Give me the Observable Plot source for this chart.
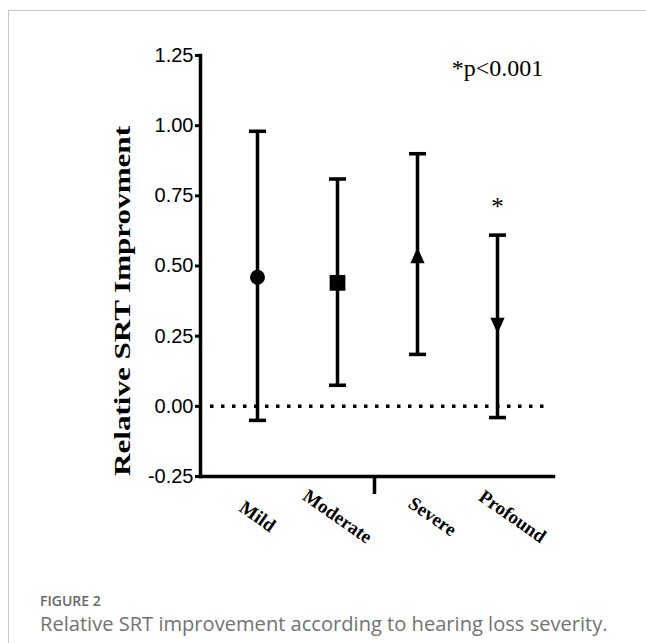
<!DOCTYPE html>
<html><head><meta charset="utf-8">
<script src="https://cdn.jsdelivr.net/npm/d3@7"></script>
<script src="https://cdn.jsdelivr.net/npm/@observablehq/plot@0.6"></script>
<style>
body{margin:0;background:#fff;}
#fig{position:relative;width:646px;height:643px;overflow:hidden;background:#fff;}
#chart{position:absolute;left:0;top:0;}
.bt{position:absolute;left:8px;top:10px;right:0;height:0;border-top:1.5px solid #c6c6c6;}
.bl{position:absolute;left:8px;top:10px;bottom:0;width:0;border-left:1.5px solid #c6c6c6;}
.fl{position:absolute;left:40px;top:593px;font-family:"Open Sans",sans-serif;font-size:14px;line-height:16px;font-weight:600;color:#666;white-space:nowrap;}
.ct{position:absolute;left:40px;top:613px;font-family:"Open Sans",sans-serif;font-size:20.1px;line-height:22px;color:#727272;white-space:nowrap;}
</style></head><body>
<div id="fig"><div id="chart"></div><div class="bt"></div><div class="bl"></div>
<div class="fl" id="figlabel"></div><div class="ct" id="figcap"></div></div>
<script>
// ---- data ----
const categories = ["Mild", "Moderate", "Severe", "Profound"];
const means = [0.46, 0.44, 0.535, 0.29];
const lower = [-0.05, 0.075, 0.185, -0.04];
const upper = [0.98, 0.81, 0.90, 0.61];
const yTicks = [-0.25, 0, 0.25, 0.5, 0.75, 1.0, 1.25];
const yLabel = "Relative SRT Improvment";
const sigMarkCategory = ["Profound"];
const sigMarkY = [0.71];
const pNote = ["*p<0.001"];
const pNoteCategory = ["Profound"];
const pNoteY = [1.205];
const figLabel = "FIGURE 2";
const figCaption = "Relative SRT improvement according to hearing loss severity.";

const rows = categories.map((c, i) => ({category: c, mean: means[i], lo: lower[i], hi: upper[i]}));

// custom marker shapes
const circ = {draw(ctx, size){const r = Math.sqrt(size/Math.PI); ctx.moveTo(r,0); ctx.arc(0,0,r,0,2*Math.PI);}};
const sq = {draw(ctx, size){const r = Math.sqrt(size/Math.PI)*1.05; ctx.rect(-r,-r,2*r,2*r);}};
const triUp = {draw(ctx, size){const r = Math.sqrt(size/Math.PI); const w=r*0.95, h=r*2.1; ctx.moveTo(0,-h*0.55); ctx.lineTo(w,h*0.45); ctx.lineTo(-w,h*0.45); ctx.closePath();}};
const triDown = {draw(ctx, size){const r = Math.sqrt(size/Math.PI); const w=r*0.95, h=r*2.1; ctx.moveTo(0,h*0.55); ctx.lineTo(w,-h*0.45); ctx.lineTo(-w,-h*0.45); ctx.closePath();}};
const capBar = {draw(ctx, size){const r = Math.sqrt(size/Math.PI); ctx.rect(-r, -r*0.21, 2*r, r*0.42);}};

function midTick(index, scales, values, dim) {
  const x = dim.marginLeft + (dim.width - dim.marginLeft - dim.marginRight) / 2 - 2;
  const y0 = dim.height - dim.marginBottom;
  const l = document.createElementNS("http://www.w3.org/2000/svg", "line");
  l.setAttribute("x1", x); l.setAttribute("x2", x);
  l.setAttribute("y1", y0); l.setAttribute("y2", y0 + 18);
  l.setAttribute("stroke", "#000"); l.setAttribute("stroke-width", 3.5);
  return l;
}

const serif = "'Liberation Serif', 'Times New Roman', serif";

const chart = Plot.plot({
  width: 646, height: 560,
  marginLeft: 200, marginRight: 93, marginTop: 55, marginBottom: 84,
  style: {background: "transparent", color: "#000", overflow: "visible"},
  x: {type: "point", domain: categories, padding: 0.706, axis: null},
  y: {domain: [-0.25, 1.25], axis: null},
  symbol: {domain: categories, range: [circ, sq, triUp, triDown]},
  marks: [
    Plot.ruleY([0], {stroke: "#000", strokeWidth: 3.5, strokeDasharray: "3.5,7.5", insetLeft: 10, insetRight: 5}),
    Plot.frame({anchor: "left", stroke: "#000", strokeWidth: 3.5}),
    Plot.frame({anchor: "bottom", stroke: "#000", strokeWidth: 3.5}),
    Plot.axisY({ticks: yTicks, tickFormat: d => d.toFixed(2), tickSize: 5, tickPadding: 2, strokeWidth: 3,
      fontSize: 20, fontFamily: "'Liberation Sans', Arial, sans-serif", label: null}),
    Plot.ruleX(rows, {x: "category", y1: "lo", y2: "hi", stroke: "#000", strokeWidth: 3.5}),
    Plot.dot(rows, {x: "category", y: "lo", symbol: capBar, r: 8.5, fill: "#000", stroke: "none"}),
    Plot.dot(rows, {x: "category", y: "hi", symbol: capBar, r: 8.5, fill: "#000", stroke: "none"}),
    Plot.dot(rows, {x: "category", y: "mean", symbol: "category", r: 7.5, fill: "#000", stroke: "none"}),
    midTick,
    Plot.text(categories.slice(0, 2), {x: d => d, frameAnchor: "bottom", dy: 40, rotate: 35, fontSize: 19,
      fontWeight: "bold", fontFamily: serif, textAnchor: "middle", lineAnchor: "middle", fill: "#000"}),
    Plot.text(categories.slice(2), {x: d => d, frameAnchor: "bottom", dy: 40, dx: 15, rotate: 35, fontSize: 19,
      fontWeight: "bold", fontFamily: serif, textAnchor: "middle", lineAnchor: "middle", fill: "#000"}),
    Plot.text([yLabel], {frameAnchor: "left", dx: -78, dy: 35, rotate: -90, fontSize: 23, fontWeight: "bold",
      fontFamily: serif, textAnchor: "middle", lineAnchor: "middle", fill: "#000"}),
    Plot.text(sigMarkCategory, {x: d => d, y: sigMarkY, text: () => "*", fontSize: 25, fontFamily: serif,
      textAnchor: "middle", lineAnchor: "middle", fill: "#000"}),
    Plot.text(pNote, {x: pNoteCategory, y: pNoteY, fontSize: 24, fontFamily: serif,
      textAnchor: "middle", lineAnchor: "middle", fill: "#000"})
  ]
});
document.getElementById("chart").appendChild(chart);
chart.querySelectorAll("text").forEach(t => {
  if (t.textContent === yLabel) {
    t.setAttribute("textLength", 350);
    t.setAttribute("lengthAdjust", "spacingAndGlyphs");
  }
});
document.getElementById("figlabel").textContent = figLabel;
document.getElementById("figcap").textContent = figCaption;
</script>
</body></html>
